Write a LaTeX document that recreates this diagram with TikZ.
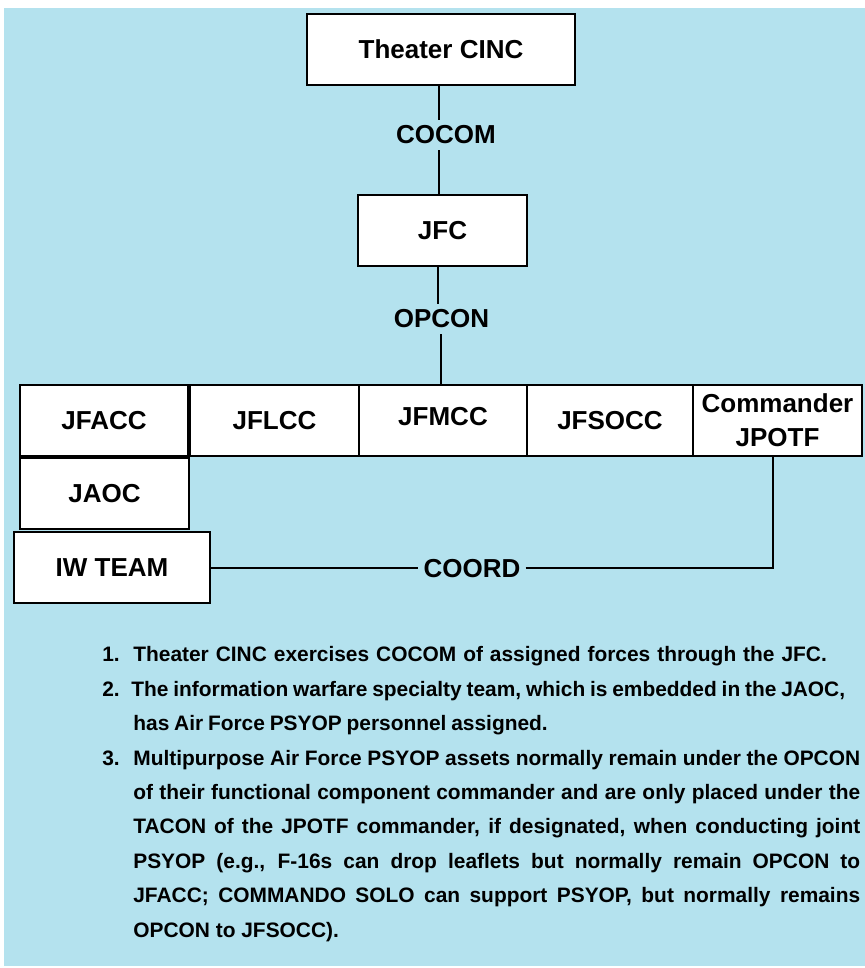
\documentclass[tikz,border=0pt]{standalone}
\usepackage{fontspec}
\setmainfont{Liberation Sans}
\usetikzlibrary{calc}
\definecolor{skyback}{RGB}{180,226,238}
\tikzset{
	unitbox/.style={draw=black, fill=white, line width=0.5mm, inner sep=0pt, minimum height=1.42cm, font=\fontsize{14.8}{19.3}\selectfont\bfseries},
	ctrllabel/.style={font=\fontsize{14.8}{17}\selectfont\bfseries},
	link/.style={line width=0.4mm},
	notetext/.style={inner sep=0pt, font=\fontsize{11.9}{19.6}\selectfont\bfseries},
}
\begin{document}
\begin{tikzpicture}[x=0.02cm, y=-0.02cm]
			%%%%% START %%%%%
			
			\fill[white] (0, 0) rectangle (865, 968);
			\fill[skyback] (4, 8) rectangle (865, 966);
			\useasboundingbox (0, 0) rectangle (865, 968);
			
			\node[unitbox, minimum width=5.36cm] (cinc) at (441, 49.5) {Theater CINC};
			\node[ctrllabel] (cocom) at (446, 135) {COCOM};
			\node[unitbox, minimum width=3.38cm] (jfc) at (442.5, 230.5) {JFC};
			\node[ctrllabel] (opcon) at (441.5, 319) {OPCON};
			
			\node[unitbox, minimum width=3.36cm] (jfacc) at (104, 420.5) {JFACC};
			\node[unitbox, minimum width=3.38cm] (jflcc) at (274.5, 420.5) {JFLCC};
			\node[unitbox, minimum width=3.36cm] (jfmcc) at (443, 420.5) {\raisebox{0.18cm}{JFMCC}};
			\node[unitbox, minimum width=3.32cm] (jfsocc) at (610, 420.5) {JFSOCC};
			\node[unitbox, minimum width=3.38cm, align=center] (jpotf) at (777.5, 420.5) {Commander\\JPOTF};
			
			\node[unitbox, minimum width=3.38cm] (jaoc) at (104.5, 493.5) {JAOC};
			\node[unitbox, minimum width=3.92cm] (iwteam) at (112, 567.5) {IW TEAM};
			\node[ctrllabel, inner xsep=0.1cm] (coord) at (472, 569) {COORD};
			
			\coordinate (cocomx) at (439, 0);
			\coordinate (opconup) at (438, 0);
			\coordinate (opcondown) at (441, 0);
			\coordinate (elbow) at (773, 568);
			
			\draw[link] (cinc.south -| cocomx) -- (cocom.north -| cocomx);
			\draw[link] (cocom.south -| cocomx) -- (jfc.north -| cocomx);
			\draw[link] (jfc.south -| opconup) -- (opcon.north -| opconup);
			\draw[link] (opcon.south -| opcondown) -- (jfmcc.north -| opcondown);
			\draw[link] (iwteam.east |- elbow) -- (coord.west |- elbow);
			\draw[link] (coord.east |- elbow) -- (elbow) -- (elbow |- jpotf.south);
			
			\node[notetext, anchor=base west] (num1) at (102, 661) {1.};
			\node[notetext, anchor=base west, text width=14.54cm, align=left] (note1) at (133, 661) {Theater CINC exercises COCOM of assigned forces through the JFC.};
			\node[notetext, anchor=base west] (num2) at (102, 696) {2.};
			\node[notetext, anchor=base west, text width=16cm, align=left] (note2) at (131, 696) {\spaceskip=0.23em\relax The information warfare specialty team, which is embedded in the JAOC,\\\hspace*{0.04cm}has Air Force PSYOP personnel assigned.};
			\node[notetext, anchor=base west] (num3) at (102, 765) {3.};
			\node[notetext, anchor=base west, text width=14.54cm, align=justify] (note3) at (133, 765) {Multipurpose Air Force PSYOP assets normally remain under the OPCON\linebreak of their functional component commander and are only placed under the\linebreak TACON of the JPOTF commander, if designated, when conducting joint\linebreak PSYOP (e.g., F-16s can drop leaflets but normally remain OPCON to\linebreak JFACC; COMMANDO SOLO can support PSYOP, but normally remains\linebreak OPCON to JFSOCC).};
			
			%%%%% END %%%%%
\end{tikzpicture}
\end{document}
